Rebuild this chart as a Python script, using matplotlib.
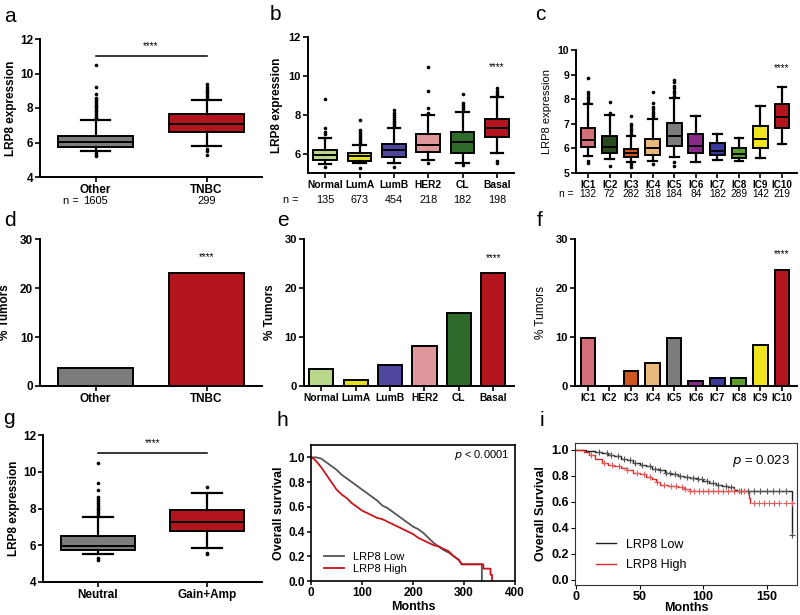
"""LRP8 expression across breast cancer subgroups: box plots, bars and survival."""

import numpy as np
import matplotlib

matplotlib.use("Agg")
import matplotlib.pyplot as plt

plt.rcParams["font.family"] = ["Liberation Sans", "DejaVu Sans"]

W, H = 800, 615
RED = "#b3151c"
GREY = "#7c7c7c"

# ── a: TNBC vs other ──
A_CATS = ["Other", "TNBC"]
A_N = ["1605", "299"]
A_Q1 = [5.75, 6.58]
A_MED = [6.02, 7.1]
A_Q3 = [6.37, 7.65]
A_WLO = [5.5, 5.8]
A_WHI = [7.3, 8.47]
A_FLIERS = [
    [7.4, 7.5, 7.6, 7.7, 7.8, 7.9, 8.0, 8.1, 8.2, 8.3, 8.4, 8.5, 8.6, 8.8, 9.2, 10.5, 5.4, 5.3, 5.2],
    [8.6, 8.7, 8.8, 8.9, 9.0, 9.1, 9.2, 9.4, 5.6, 5.5, 5.3],
]
A_COLORS = [GREY, RED]

# ── b: PAM50 subtypes ──
B_CATS = ["Normal", "LumA", "LumB", "HER2", "CL", "Basal"]
B_N = ["135", "673", "454", "218", "182", "198"]
B_Q1 = [5.67, 5.62, 5.84, 6.08, 6.01, 6.85]
B_MED = [5.93, 5.88, 6.17, 6.44, 6.6, 7.32]
B_Q3 = [6.18, 6.01, 6.51, 7.02, 7.12, 7.8]
B_WLO = [5.45, 5.49, 5.5, 5.67, 5.54, 6.05]
B_WHI = [6.8, 6.44, 7.32, 7.97, 8.14, 8.9]
B_FLIERS = [
    [7.0, 7.1, 7.3, 8.8, 5.3],
    [6.5, 6.6, 6.7, 6.8, 6.9, 7.0, 7.1, 7.2, 7.75, 5.25],
    [7.4, 7.5, 7.6, 7.7, 7.8, 7.9, 8.0, 8.1, 8.25, 5.3],
    [8.1, 8.35, 9.2, 10.45, 5.5],
    [8.3, 8.4, 8.5, 8.6, 9.05, 5.4],
    [9.0, 9.1, 9.2, 9.4, 5.6, 5.5],
]
B_COLORS = ["#b9d88c", "#e6df1e", "#4f479e", "#df979b", "#2e6a29", RED]

# ── c: integrative clusters ──
C_CATS = ["IC1", "IC2", "IC3", "IC4", "IC5", "IC6", "IC7", "IC8", "IC9", "IC10"]
C_N = ["132", "72", "282", "318", "184", "84", "182", "289", "142", "219"]
C_Q1 = [6.05, 5.82, 5.65, 5.75, 6.1, 5.8, 5.75, 5.62, 6.0, 6.83]
C_MED = [6.35, 6.07, 5.8, 6.02, 6.5, 6.08, 5.9, 5.77, 6.37, 7.28]
C_Q3 = [6.82, 6.52, 5.97, 6.4, 7.05, 6.57, 6.2, 6.0, 6.92, 7.8]
C_WLO = [5.7, 5.55, 5.45, 5.5, 5.65, 5.45, 5.52, 5.47, 5.6, 6.17]
C_WHI = [7.8, 7.35, 6.5, 7.2, 8.05, 7.33, 6.57, 6.42, 7.72, 8.5]
C_FLIERS = [
    [7.9, 8.0, 8.1, 8.2, 8.3, 8.85, 5.5, 5.4],
    [7.45, 7.9, 5.3],
    [6.6, 6.7, 6.8, 6.9, 7.0, 7.3, 5.35, 5.25],
    [7.3, 7.4, 7.5, 7.6, 7.7, 7.85, 8.3, 5.35],
    [8.15, 8.25, 8.35, 8.45, 8.55, 8.7, 8.8, 5.45, 5.3],
    [], [], [], [], [],
]
C_COLORS = ["#d46f78", "#2a4a1e", "#cf561c", "#e8b97a", "#7c7c7c",
            "#8a2a88", "#39399e", "#5ba02c", "#efe41f", RED]

# ── d, e, f: % tumours with LRP8 gain/amp ──
D_PCT = [3.6, 23.1]
E_PCT = [3.5, 1.3, 4.3, 8.1, 15.0, 23.0]
F_PCT = [9.8, 0.0, 3.1, 4.7, 9.8, 1.1, 1.6, 1.7, 8.4, 23.6]

# ── g: copy-number status ──
G_CATS = ["Neutral", "Gain+Amp"]
G_Q1 = [5.72, 6.8]
G_MED = [5.98, 7.24]
G_Q3 = [6.5, 7.92]
G_WLO = [5.5, 5.83]
G_WHI = [7.55, 8.85]
G_FLIERS = [
    [7.6, 7.7, 7.8, 7.9, 8.0, 8.1, 8.2, 8.3, 8.4, 8.5, 8.6, 9.0, 9.4, 10.45, 5.3, 5.2],
    [9.15, 5.6, 5.5],
]

# ── h: METABRIC survival ──
H_LOW_T = [0, 10, 20, 30, 40, 50, 60, 70, 80, 90, 100, 110, 120, 130, 140, 150,
           160, 170, 180, 190, 200, 210, 220, 230, 240, 250, 260, 270, 280, 290,
           295, 335, 335]
H_LOW_S = [1.0, 1.0, 0.99, 0.96, 0.93, 0.90, 0.86, 0.83, 0.80, 0.77, 0.74, 0.71,
           0.68, 0.65, 0.61, 0.59, 0.56, 0.53, 0.50, 0.47, 0.44, 0.42, 0.39, 0.35,
           0.31, 0.28, 0.25, 0.23, 0.20, 0.17, 0.135, 0.135, 0.0]
H_HIGH_T = [0, 5, 10, 20, 30, 40, 50, 60, 70, 80, 90, 100, 110, 120, 130, 140, 150,
            160, 170, 180, 190, 200, 210, 220, 230, 240, 250, 260, 270, 280, 290,
            296, 338, 338, 352, 352, 355, 355]
H_HIGH_S = [1.0, 0.99, 0.97, 0.92, 0.86, 0.80, 0.74, 0.70, 0.67, 0.63, 0.60, 0.57,
            0.55, 0.53, 0.51, 0.50, 0.48, 0.46, 0.44, 0.42, 0.40, 0.38, 0.35, 0.33,
            0.31, 0.29, 0.28, 0.26, 0.24, 0.20, 0.17, 0.135, 0.135, 0.10, 0.10,
            0.05, 0.05, 0.0]

# ── i: second cohort survival ──
I_LOW_T = [0, 8, 15, 20, 25, 30, 35, 40, 45, 50, 55, 60, 65, 70, 75, 80, 85, 90,
           95, 100, 105, 110, 115, 120, 124, 127, 170]
I_LOW_S = [1.0, 0.99, 0.98, 0.97, 0.96, 0.95, 0.93, 0.92, 0.90, 0.88, 0.87, 0.85,
           0.84, 0.82, 0.81, 0.80, 0.79, 0.78, 0.77, 0.76, 0.74, 0.73, 0.72, 0.71,
           0.69, 0.68, 0.34]
I_HIGH_T = [0, 6, 10, 15, 20, 25, 30, 35, 40, 45, 50, 55, 60, 63, 66, 72, 80, 85,
            90, 136, 137]
I_HIGH_S = [1.0, 0.98, 0.96, 0.93, 0.90, 0.88, 0.87, 0.86, 0.84, 0.82, 0.81, 0.79,
            0.77, 0.75, 0.73, 0.72, 0.71, 0.70, 0.68, 0.63, 0.59]
I_LOW_CENS = [18, 24, 27, 33, 38, 42, 46, 52, 58, 62, 66, 71, 74, 78, 82, 87, 92,
              96, 99, 103, 108, 112, 118, 122, 130, 135, 140, 145, 150, 155, 160,
              165, 170]
I_HIGH_CENS = [12, 22, 28, 34, 40, 48, 53, 58, 64, 69, 75, 79, 83, 86, 90, 93, 97,
               100, 104, 108, 112, 116, 120, 124, 128, 132, 140, 144, 148, 152, 156,
               160, 165, 170]


def rect(l, t, r, b):
    return [l / W, 1 - b / H, (r - l) / W, (b - t) / H]


def prism_axes(fig, box, ylim, yticks, xlim):
    ax = fig.add_axes(rect(*box))
    for s in ("top", "right"):
        ax.spines[s].set_visible(False)
    for s in ("left", "bottom"):
        ax.spines[s].set_linewidth(1.4)
    ax.set_ylim(*ylim)
    ax.set_yticks(yticks)
    ax.set_xlim(*xlim)
    ax.tick_params(direction="out", length=3.5, width=1.2, pad=1.5)
    return ax


def bold_ticks(ax, size, xsize=None):
    for lab in ax.get_yticklabels():
        lab.set_fontweight("bold")
        lab.set_fontsize(size)
    for lab in ax.get_xticklabels():
        lab.set_fontweight("bold")
        lab.set_fontsize(xsize or size)


def boxes(ax, q1, med, q3, wlo, whi, fliers, colors, width, capw):
    stats = [
        {"q1": a, "med": m, "q3": b, "whislo": lo, "whishi": hi, "fliers": f}
        for a, m, b, lo, hi, f in zip(q1, med, q3, wlo, whi, fliers)
    ]
    art = ax.bxp(
        stats, positions=range(len(stats)), widths=width, capwidths=capw,
        patch_artist=True, showfliers=True,
        boxprops={"linewidth": 1.4, "edgecolor": "black"},
        medianprops={"color": "black", "linewidth": 1.4},
        whiskerprops={"color": "black", "linewidth": 1.6},
        capprops={"color": "black", "linewidth": 1.6},
        flierprops={"marker": "o", "markersize": 1.6, "markerfacecolor": "black",
                    "markeredgecolor": "black"},
    )
    for patch, c in zip(art["boxes"], colors):
        patch.set_facecolor(c)


def n_row(ax, labels, drop, size, nx=None):
    trans = ax.get_xaxis_transform()
    for i, s in enumerate(labels):
        ax.annotate(s, (i, 0), xycoords=trans, xytext=(0, -drop),
                    textcoords="offset points", ha="center", va="center",
                    fontsize=size)
    if nx is not None:
        ax.annotate("n =", (nx, 0), xycoords=trans, xytext=(0, -drop),
                    textcoords="offset points", ha="center", va="center",
                    fontsize=size)


def km(ax, t, s, color, lw, label, step=True):
    ax.plot(t, s, drawstyle="steps-post" if step else "default",
            color=color, linewidth=lw, label=label)


def main():
    fig = plt.figure(figsize=(W / 100, H / 100), dpi=100)

    # ── a ──
    ax = prism_axes(fig, (40, 39, 262, 177), (4, 12), [4, 6, 8, 10, 12], (-0.5, 1.5))
    boxes(ax, A_Q1, A_MED, A_Q3, A_WLO, A_WHI, A_FLIERS, A_COLORS, 0.68, 0.27)
    ax.set_xticks(range(2), A_CATS)
    bold_ticks(ax, 8.5)
    ax.set_ylabel("LRP8 expression", fontsize=8.5, fontweight="bold", labelpad=2)
    ax.plot([0, 1], [11.0, 11.0], color="black", linewidth=1.1)
    ax.text(0.5, 11.3, "****", ha="center", va="bottom", fontsize=7)
    n_row(ax, A_N, 17, 8, nx=-0.22)

    # ── b ──
    ax = prism_axes(fig, (308, 37, 514, 173), (5, 12), [6, 8, 10, 12], (-0.5, 5.5))
    boxes(ax, B_Q1, B_MED, B_Q3, B_WLO, B_WHI, B_FLIERS, B_COLORS, 0.68, 0.36)
    ax.set_xticks(range(6), B_CATS)
    bold_ticks(ax, 8, 7.4)
    ax.set_ylabel("LRP8 expression", fontsize=8.5, fontweight="bold", labelpad=4)
    ax.text(5, 10.2, "****", ha="center", va="bottom", fontsize=7)
    n_row(ax, B_N, 19.5, 7.8, nx=-1.0)

    # ── c ──
    ax = prism_axes(fig, (576, 50, 797, 173), (5, 10), [5, 6, 7, 8, 9, 10], (-0.56, 9.7))
    boxes(ax, C_Q1, C_MED, C_Q3, C_WLO, C_WHI, C_FLIERS, C_COLORS, 0.68, 0.4)
    ax.set_xticks(range(10), C_CATS)
    bold_ticks(ax, 7.5, 7.1)
    ax.set_ylabel("LRP8 expression", fontsize=8, labelpad=4)
    ax.text(9, 9.05, "****", ha="center", va="bottom", fontsize=7)
    n_row(ax, C_N, 15, 7.3, nx=-1.0)

    # ── d ──
    ax = prism_axes(fig, (40, 239, 262, 386), (0, 30), [0, 10, 20, 30], (-0.5, 1.5))
    ax.bar(range(2), D_PCT, width=0.68, color=A_COLORS, edgecolor="black", linewidth=1.4)
    ax.set_xticks(range(2), A_CATS)
    bold_ticks(ax, 8.5)
    ax.set_ylabel("% Tumors", fontsize=8.5, fontweight="bold", labelpad=6)
    ax.text(1, 25.3, "****", ha="center", va="bottom", fontsize=7)

    # ── e ──
    ax = prism_axes(fig, (304, 239, 514, 386), (0, 30), [0, 10, 20, 30], (-0.5, 5.6))
    ax.bar(range(6), E_PCT, width=0.7, color=B_COLORS, edgecolor="black", linewidth=1.4)
    ax.set_xticks(range(6), B_CATS)
    bold_ticks(ax, 8, 7.4)
    ax.set_ylabel("% Tumors", fontsize=8.5, fontweight="bold", labelpad=6)
    ax.text(5, 25.0, "****", ha="center", va="bottom", fontsize=7)

    # ── f ──
    ax = prism_axes(fig, (575, 239, 797, 386), (0, 30), [0, 10, 20, 30], (-0.6, 9.7))
    ax.bar(range(10), F_PCT, width=0.68, color=C_COLORS, edgecolor="black", linewidth=1.4)
    ax.set_xticks(range(10), C_CATS)
    bold_ticks(ax, 8, 7.1)
    ax.set_ylabel("% Tumors", fontsize=8.5, labelpad=6)
    ax.text(9, 25.9, "****", ha="center", va="bottom", fontsize=7)

    # ── g ──
    ax = prism_axes(fig, (43, 435, 262, 582), (4, 12), [4, 6, 8, 10, 12], (-0.5, 1.5))
    boxes(ax, G_Q1, G_MED, G_Q3, G_WLO, G_WHI, G_FLIERS, A_COLORS, 0.68, 0.27)
    ax.set_xticks(range(2), G_CATS)
    bold_ticks(ax, 8.5)
    ax.set_ylabel("LRP8 expression", fontsize=8.5, fontweight="bold", labelpad=2)
    ax.plot([0, 1], [11.0, 11.0], color="black", linewidth=1.1)
    ax.text(0.5, 11.3, "****", ha="center", va="bottom", fontsize=7)

    # ── h ──
    ax = fig.add_axes(rect(311, 445, 515, 581))
    km(ax, H_LOW_T, H_LOW_S, "#555555", 1.3, "LRP8 Low", step=False)
    km(ax, H_HIGH_T, H_HIGH_S, "#c8141c", 1.3, "LRP8 High", step=False)
    ax.set_xlim(0, 400)
    ax.set_ylim(0, 1.1)
    ax.set_xticks([0, 100, 200, 300, 400])
    ax.set_yticks([0, 0.2, 0.4, 0.6, 0.8, 1.0], ["0.0", "0.2", "0.4", "0.6", "0.8", "1.0"])
    for s in ax.spines.values():
        s.set_linewidth(1.2)
    ax.tick_params(direction="out", length=3, width=1.1, pad=1.5)
    bold_ticks(ax, 8.5)
    ax.set_xlabel("Months", fontsize=9, fontweight="bold", labelpad=1)
    ax.set_ylabel("Overall survival", fontsize=9, fontweight="bold", labelpad=2)
    ax.text(0.97, 0.93, r"$\it{p}$ < 0.0001", transform=ax.transAxes,
            ha="right", va="center", fontsize=8)
    ax.legend(loc="lower left", frameon=False, fontsize=8, handlelength=1.8,
              borderaxespad=0.2, labelspacing=0.2, bbox_to_anchor=(0.03, 0.0))

    # ── i ──
    ax = fig.add_axes(rect(575, 443, 797, 585))
    km(ax, I_LOW_T, I_LOW_S, "#1e1e1e", 1.0, "LRP8 Low")
    km(ax, I_HIGH_T, I_HIGH_S, "#d42a2a", 1.0, "LRP8 High")
    for cens, t, s, c in ((I_LOW_CENS, I_LOW_T, I_LOW_S, "#555555"),
                          (I_HIGH_CENS, I_HIGH_T, I_HIGH_S, "#e06060")):
        idx = np.searchsorted(t, cens, side="right") - 1
        ax.plot(cens, np.asarray(s)[idx], "+", color=c, markersize=4, markeredgewidth=0.8)
    ax.set_xlim(-1, 174)
    ax.set_ylim(-0.04, 1.05)
    ax.set_xticks([0, 50, 100, 150])
    ax.set_yticks([0, 0.2, 0.4, 0.6, 0.8, 1.0], ["0.0", "0.2", "0.4", "0.6", "0.8", "1.0"])
    for s in ax.spines.values():
        s.set_linewidth(0.8)
        s.set_color("#333333")
    ax.tick_params(direction="out", length=3, width=0.8, pad=1.5)
    bold_ticks(ax, 9)
    ax.set_xlabel("Months", fontsize=9, fontweight="bold", labelpad=-1)
    ax.set_ylabel("Overall Survival", fontsize=9, fontweight="bold", labelpad=3)
    ax.text(0.97, 0.87, r"$\it{p}$ = 0.023", transform=ax.transAxes,
            ha="right", va="center", fontsize=9.5)
    ax.legend(loc="lower left", frameon=False, fontsize=9, handlelength=1.6,
              labelspacing=0.7, borderaxespad=0.0, bbox_to_anchor=(0.07, 0.06))

    # ── panel letters ──
    for letter, x, y in (("a", 4, 22), ("b", 270, 20), ("c", 535, 20),
                         ("d", 4, 226), ("e", 277, 226), ("f", 537, 226),
                         ("g", 3, 424), ("h", 277, 426), ("i", 540, 426)):
        fig.text(x / W, 1 - y / H, letter, fontsize=15, va="baseline")

    fig.savefig("out.png", dpi=100, facecolor="white")


if __name__ == "__main__":
    main()
